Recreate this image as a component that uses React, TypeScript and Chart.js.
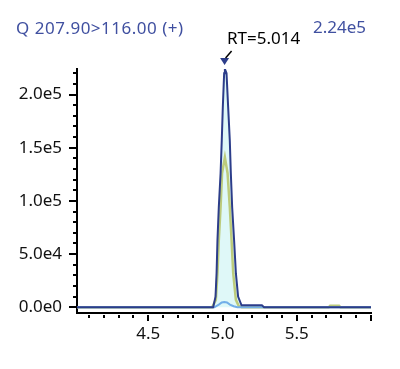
import React, { useEffect, useRef } from "react";
import { Chart, registerables } from "chart.js";

Chart.register(...registerables);

// ---- data ----
const navyTimes = [4.02, 4.5, 4.9, 4.937, 4.953, 4.96, 4.966, 4.975, 4.987, 4.995, 5.002, 5.011, 5.016, 5.027, 5.038, 5.049, 5.056, 5.065, 5.078, 5.09, 5.105, 5.128, 5.2, 5.265, 5.28, 5.6, 6.0];
const navyValues = [0, 0, 0, 0, 10000, 32000, 63000, 94000, 126000, 157000, 188000, 220000, 224000, 220000, 188000, 157000, 126000, 94000, 63000, 32000, 10000, 1800, 1800, 1800, 0, 0, 0];

const yellowTimes = [4.02, 4.5, 4.93, 4.955, 4.966, 4.975, 4.987, 4.997, 5.016, 5.034, 5.049, 5.061, 5.072, 5.09, 5.11, 5.13, 5.5, 5.715, 5.725, 5.785, 5.795, 6.0];
const yellowValues = [0, 0, 0, 7000, 32000, 63000, 94000, 126000, 141000, 126000, 94000, 63000, 32000, 7000, 1000, 0, 0, 0, 1500, 1500, 0, 0];

const blueTimes = [4.02, 4.5, 4.945, 4.975, 4.995, 5.012, 5.03, 5.05, 5.075, 5.1, 5.5, 6.0];
const blueValues = [0, 0, 0, 2500, 4500, 5000, 4500, 2500, 1000, 0, 0, 0];

const xLabelTicks = [4.5, 5.0, 5.5];
const xMinorTicks = [4.1, 4.2, 4.3, 4.4, 4.5, 4.6, 4.7, 4.8, 4.9, 5.0, 5.1, 5.2, 5.3, 5.4, 5.5, 5.6, 5.7, 5.8, 5.9, 6.0];
const xMajorTicks = [4.5, 5.0, 5.5, 6.0];
const yLabelTicks = [0, 50000, 100000, 150000, 200000];
const yMinorTicks = [0, 10000, 20000, 30000, 40000, 50000, 60000, 70000, 80000, 90000, 100000, 110000, 120000, 130000, 140000, 150000, 160000, 170000, 180000, 190000, 200000, 210000, 220000];

const rtTime = 5.014;
const rtValue = 224000;

const titleText = "Q 207.90>116.00 (+)";
const maxText = "2.24e5";
const rtText = "RT=5.014";

const NAVY = "#2c3d8a";
const FONT = "'Noto Sans', sans-serif";

const toXY = (ts: number[], vs: number[]) => ts.map((t, i) => ({ x: t, y: vs[i] }));

const tickPlugin = {
  id: "customTicks",
  afterDraw(chart: any) {
    const ctx = chart.ctx;
    const xs = chart.scales.x;
    const ys = chart.scales.y;
    const area = chart.chartArea;
    ctx.save();
    ctx.fillStyle = "#000";
    // y ticks
    yMinorTicks.forEach((v) => {
      const py = Math.round(ys.getPixelForValue(v));
      const major = yLabelTicks.includes(v);
      const len = major ? 7 : 3;
      ctx.fillRect(area.left - 1 - len, py - 1, len, 2);
    });
    // x ticks
    xMinorTicks.forEach((v) => {
      const px = Math.round(xs.getPixelForValue(v));
      const major = xMajorTicks.some((m) => Math.abs(m - v) < 1e-6);
      const len = major ? 6 : 3;
      ctx.fillRect(px - 1, area.bottom + 2, 2, len);
    });
    // RT marker
    const mx = xs.getPixelForValue(rtTime);
    const my = ys.getPixelForValue(rtValue);
    const tipY = my - 4;
    const topY = my - 11;
    ctx.fillStyle = NAVY;
    ctx.beginPath();
    ctx.moveTo(mx - 4.5, topY);
    ctx.lineTo(mx + 4.5, topY);
    ctx.lineTo(mx, tipY);
    ctx.closePath();
    ctx.fill();
    ctx.strokeStyle = "#000";
    ctx.lineWidth = 1.5;
    ctx.beginPath();
    ctx.moveTo(mx + 1, topY);
    ctx.lineTo(mx + 7, topY - 7);
    ctx.stroke();
    ctx.restore();
  },
};

export default function App() {
  const canvasRef = useRef<HTMLCanvasElement | null>(null);

  useEffect(() => {
    if (!canvasRef.current) return;
    const chart = new Chart(canvasRef.current, {
      type: "line",
      data: {
        datasets: [
          {
            label: "fill",
            data: toXY(navyTimes, navyValues),
            borderWidth: 0,
            borderColor: "rgba(0,0,0,0)",
            backgroundColor: "#dff8f8",
            fill: "origin",
            pointRadius: 0,
            tension: 0,
            order: 4,
          },
          {
            label: "yellow",
            data: toXY(yellowTimes, yellowValues),
            borderColor: "#bccb7c",
            borderWidth: 2.5,
            fill: false,
            pointRadius: 0,
            tension: 0,
            order: 3,
          },
          {
            label: "blue",
            data: toXY(blueTimes, blueValues),
            borderColor: "#72aee8",
            borderWidth: 2,
            fill: false,
            pointRadius: 0,
            tension: 0,
            order: 2,
          },
          {
            label: "navy",
            data: toXY(navyTimes, navyValues),
            borderColor: NAVY,
            borderWidth: 2,
            fill: false,
            pointRadius: 0,
            tension: 0,
            order: 1,
          },
        ],
      },
      options: {
        animation: false,
        responsive: false,
        maintainAspectRatio: false,
        layout: { padding: { top: 69, right: 29, left: 0, bottom: 0 } },
        plugins: {
          legend: { display: false },
          tooltip: { enabled: false },
          filler: { drawTime: "beforeDatasetsDraw" },
        } as any,
        scales: {
          x: {
            type: "linear",
            min: 4.02,
            max: 6.0,
            grid: { display: false, drawTicks: false },
            border: { display: true, color: "#000", width: 2 },
            afterFit: (s: any) => {
              s.height = 56;
            },
            afterBuildTicks: (s: any) => {
              s.ticks = xLabelTicks.map((v) => ({ value: v }));
            },
            ticks: {
              autoSkip: false,
              maxRotation: 0,
              padding: 11,
              color: "#111",
              font: { family: FONT, size: 17 },
              callback: (v: any) => Number(v).toFixed(1),
            },
          },
          y: {
            type: "linear",
            min: -5400,
            max: 224000,
            grid: { display: false, drawTicks: false },
            border: { display: true, color: "#000", width: 2 },
            afterFit: (s: any) => {
              s.width = 77;
            },
            afterBuildTicks: (s: any) => {
              s.ticks = yLabelTicks.map((v) => ({ value: v }));
            },
            ticks: {
              autoSkip: false,
              padding: 15,
              color: "#111",
              font: { family: FONT, size: 17 },
              callback: (v: any) => Number(v).toExponential(1).replace("+", ""),
            },
          },
        },
      },
      plugins: [tickPlugin],
    });
    return () => chart.destroy();
  }, []);

  return (
    <div style={{ position: "fixed", left: 0, top: 0, width: 400, height: 369, background: "#fff", fontFamily: FONT }}>
      <canvas ref={canvasRef} width={400} height={369} style={{ position: "absolute", left: 0, top: 0 }} />
      <div style={{ position: "absolute", left: 16, top: 19, fontSize: 17, lineHeight: "17px", letterSpacing: "0.5px", color: "#4050a0", whiteSpace: "nowrap" }}>{titleText}</div>
      <div style={{ position: "absolute", left: 313, top: 18, fontSize: 17, lineHeight: "17px", color: "#4050a0", whiteSpace: "nowrap" }}>{maxText}</div>
      <div style={{ position: "absolute", left: 227, top: 29, fontSize: 17, lineHeight: "17px", color: "#000", whiteSpace: "nowrap" }}>{rtText}</div>
    </div>
  );
}
